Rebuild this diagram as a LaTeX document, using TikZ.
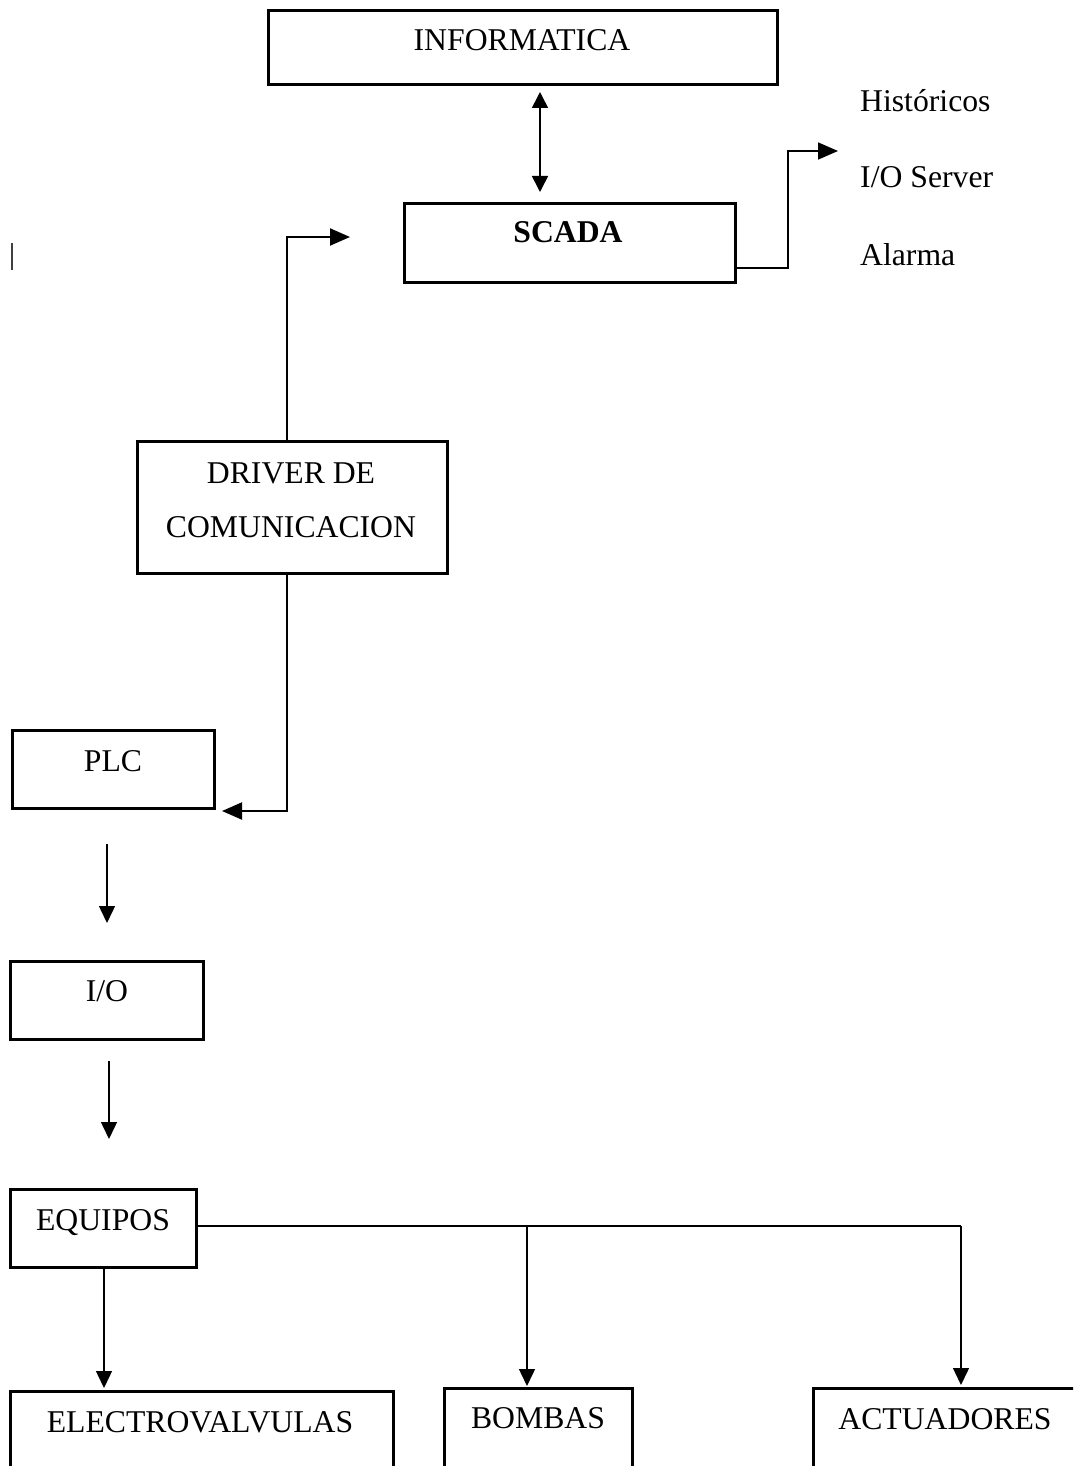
\documentclass[tikz,border=0pt]{standalone}
\usepackage{fontspec}
\setmainfont{Liberation Serif}
\usetikzlibrary{arrows.meta}
\begin{document}
\begin{tikzpicture}[x=1pt,y=-1pt,
  box/.style={draw, line width=3pt, inner sep=0pt, outer sep=0pt, anchor=north west},
  txt/.style={inner sep=0pt, anchor=base, font=\fontsize{31.7}{38}\selectfont},
  ltxt/.style={txt, anchor=base west},
  conn/.style={line width=2pt, -{Triangle[length=20pt,width=17pt]}},
  thinconn/.style={line width=1.4pt, -{Triangle[length=17pt,width=16pt]}}]
\useasboundingbox (0,0) rectangle (1073,1466);
\clip (0,0) rectangle (1073,1466);

% boxes
\node[box, minimum width=509pt, minimum height=74pt] (info) at (268,11) {};
\node[box, minimum width=331pt, minimum height=79pt] (scada) at (404,203) {};
\node[box, minimum width=310pt, minimum height=132pt] (driver) at (137,441) {};
\node[box, minimum width=202pt, minimum height=78pt] (plc) at (12,730) {};
\node[box, minimum width=193pt, minimum height=78pt] (io) at (10,961) {};
\node[box, minimum width=186pt, minimum height=78pt] (equipos) at (10,1189) {};
\node[box, minimum width=383pt, minimum height=120pt] (electro) at (10,1391) {};
\node[box, minimum width=188pt, minimum height=120pt] (bombas) at (444,1388) {};
\node[box, minimum width=300pt, minimum height=120pt] (actuadores) at (813,1388) {};

% labels
\node[txt] (info-t) at (522,51) {INFORMATICA};
\node[txt, font=\fontsize{31.7}{38}\selectfont\bfseries] (scada-t) at (568,242) {SCADA};
\node[ltxt] (hist) at (860,112) {Históricos};
\node[ltxt] (ioserver) at (860,188) {I/O Server};
\node[ltxt] (alarma) at (860,265) {Alarma};
\node[txt] (driver-t1) at (291,483) {DRIVER DE};
\node[txt] (driver-t2) at (291,537) {COMUNICACION};
\node[txt] (plc-t) at (113,771) {PLC};
\node[txt] (io-t) at (107,1001) {I/O};
\node[txt] (equipos-t) at (103,1230) {EQUIPOS};
\node[txt] (electro-t) at (200,1432) {ELECTROVALVULAS};
\node[txt] (bombas-t) at (538,1428) {BOMBAS};
\node[txt] (actuadores-t) at (945,1429) {ACTUADORES};

% connector end points
\coordinate (info-b) at (540,92);
\coordinate (scada-in) at (540,192);
\coordinate (scada-out) at (735,268);
\coordinate (scada-bend) at (788,268);
\coordinate (out-tip) at (838,151);
\coordinate (drv-top) at (287,441);
\coordinate (drv-tip) at (350,237);
\coordinate (drv-bot) at (287,573);
\coordinate (plc-tip) at (222,811);
\coordinate (plc-a) at (107,844);
\coordinate (io-a) at (107,923);
\coordinate (io-b) at (109,1061);
\coordinate (eq-a) at (109,1139);
\coordinate (bus-l) at (196,1226);
\coordinate (bus-r) at (961,1226);
\coordinate (bus-m) at (527,1226);
\coordinate (eq-down) at (104,1268);
\coordinate (electro-tip) at (104,1388);
\coordinate (bombas-tip) at (527,1386);
\coordinate (act-tip) at (961,1385);

% connectors
\draw[line width=1.6pt, {Triangle[length=16pt,width=16pt]}-{Triangle[length=16pt,width=16pt]}] (info-b) -- (scada-in);
\draw[conn, line width=1.6pt] (scada-out) -- (scada-bend) |- (out-tip);
\draw[conn] (drv-top) |- (drv-tip);
\draw[conn] (drv-bot) |- (plc-tip);
\draw[thinconn] (plc-a) -- (io-a);
\draw[thinconn] (io-b) -- (eq-a);
\draw[line width=1.4pt] (bus-l) -- (bus-r);
\draw[thinconn] (eq-down) -- (electro-tip);
\draw[thinconn] (bus-m) -- (bombas-tip);
\draw[thinconn] (bus-r) -- (act-tip);

% stray mark at the left margin
\draw[line width=1.2pt, black!75] (12,243) -- (12,270);
\end{tikzpicture}
\end{document}
